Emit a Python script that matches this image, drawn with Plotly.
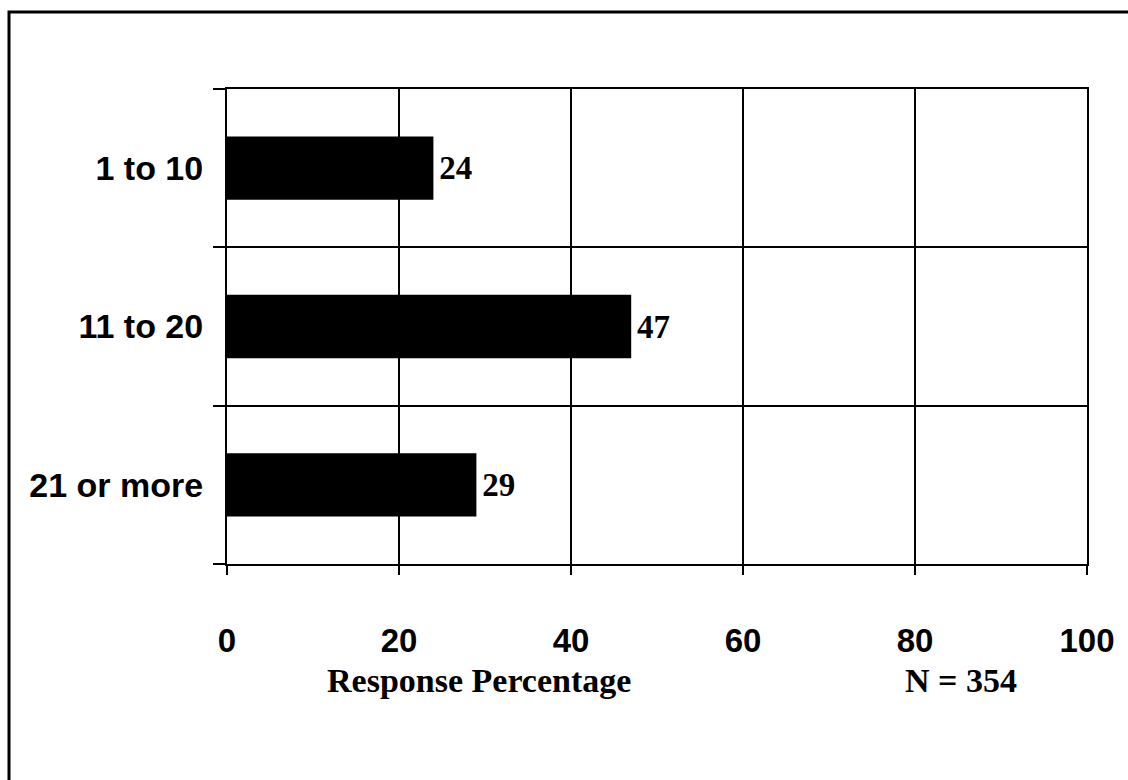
import plotly.graph_objects as go

categories = ["1 to 10", "11 to 20", "21 or more"]
values = [24, 47, 29]
x_ticks = [0, 20, 40, 60, 80, 100]
x_title = "Response Percentage"
n_note = "N = 354"

W, H = 1128, 780
L, R, T, B = 227, 1087, 89, 564
pw, ph = R - L, B - T

positions = list(range(len(categories)))
bounds = [p - 0.5 for p in positions] + [positions[-1] + 0.5]

fig = go.Figure(go.Bar(
    x=values, y=positions, orientation="h",
    marker=dict(color="black", line=dict(width=0)),
    width=0.4,
    text=[str(v) for v in values],
    texttemplate="\u200a%{text}",
    textposition="outside",
    textfont=dict(family="Liberation Serif", size=33, color="black", weight="bold"),
    cliponaxis=False,
))

def px2paper_x(px):
    return (px - L) / pw

def px2paper_y(py):
    return (B - py) / ph

fig.update_layout(
    width=W, height=H,
    margin=dict(l=L, r=W - R, t=T, b=H - B),
    paper_bgcolor="white", plot_bgcolor="white",
    showlegend=False,
    xaxis=dict(
        range=[0, 100], tickvals=x_ticks,
        showgrid=True, gridcolor="black", gridwidth=2,
        showline=True, linecolor="black", linewidth=2, mirror=True,
        ticks="outside", ticklen=9, tickwidth=2, tickcolor="black",
        tickfont=dict(family="Liberation Sans", size=33, color="black", weight="bold"),
        ticklabelstandoff=37,
        zeroline=False, fixedrange=True,
    ),
    yaxis=dict(
        range=[bounds[-1], bounds[0]],
        tickvals=positions, ticktext=categories,
        showgrid=False, ticks="",
        showline=True, linecolor="black", linewidth=2, mirror=True,
        tickfont=dict(family="Liberation Sans", size=34, color="black", weight="bold"),
        ticklabelstandoff=15,
        minor=dict(tickvals=bounds, showgrid=True, gridcolor="black", gridwidth=2,
                   ticks="outside", ticklen=12, tickwidth=2, tickcolor="black"),
        zeroline=False, fixedrange=True,
    ),
    annotations=[
        dict(text=x_title, xref="paper", yref="paper",
             x=px2paper_x(479), y=px2paper_y(680), showarrow=False,
             xanchor="center", yanchor="middle",
             font=dict(family="Liberation Serif", size=34, color="black", weight="bold")),
        dict(text=n_note, xref="paper", yref="paper",
             x=px2paper_x(961), y=px2paper_y(680), showarrow=False,
             xanchor="center", yanchor="middle",
             font=dict(family="Liberation Serif", size=34, color="black", weight="bold")),
    ],
    shapes=[
        dict(type="rect", xref="paper", yref="paper",
             x0=px2paper_x(9), x1=px2paper_x(1140),
             y0=px2paper_y(800), y1=px2paper_y(12),
             line=dict(color="black", width=3), fillcolor="rgba(0,0,0,0)",
             layer="below"),
    ],
)

fig.write_html("out.html", config={"displayModeBar": False},
               post_script="document.body.style.margin='0';document.body.style.overflow='hidden';")
